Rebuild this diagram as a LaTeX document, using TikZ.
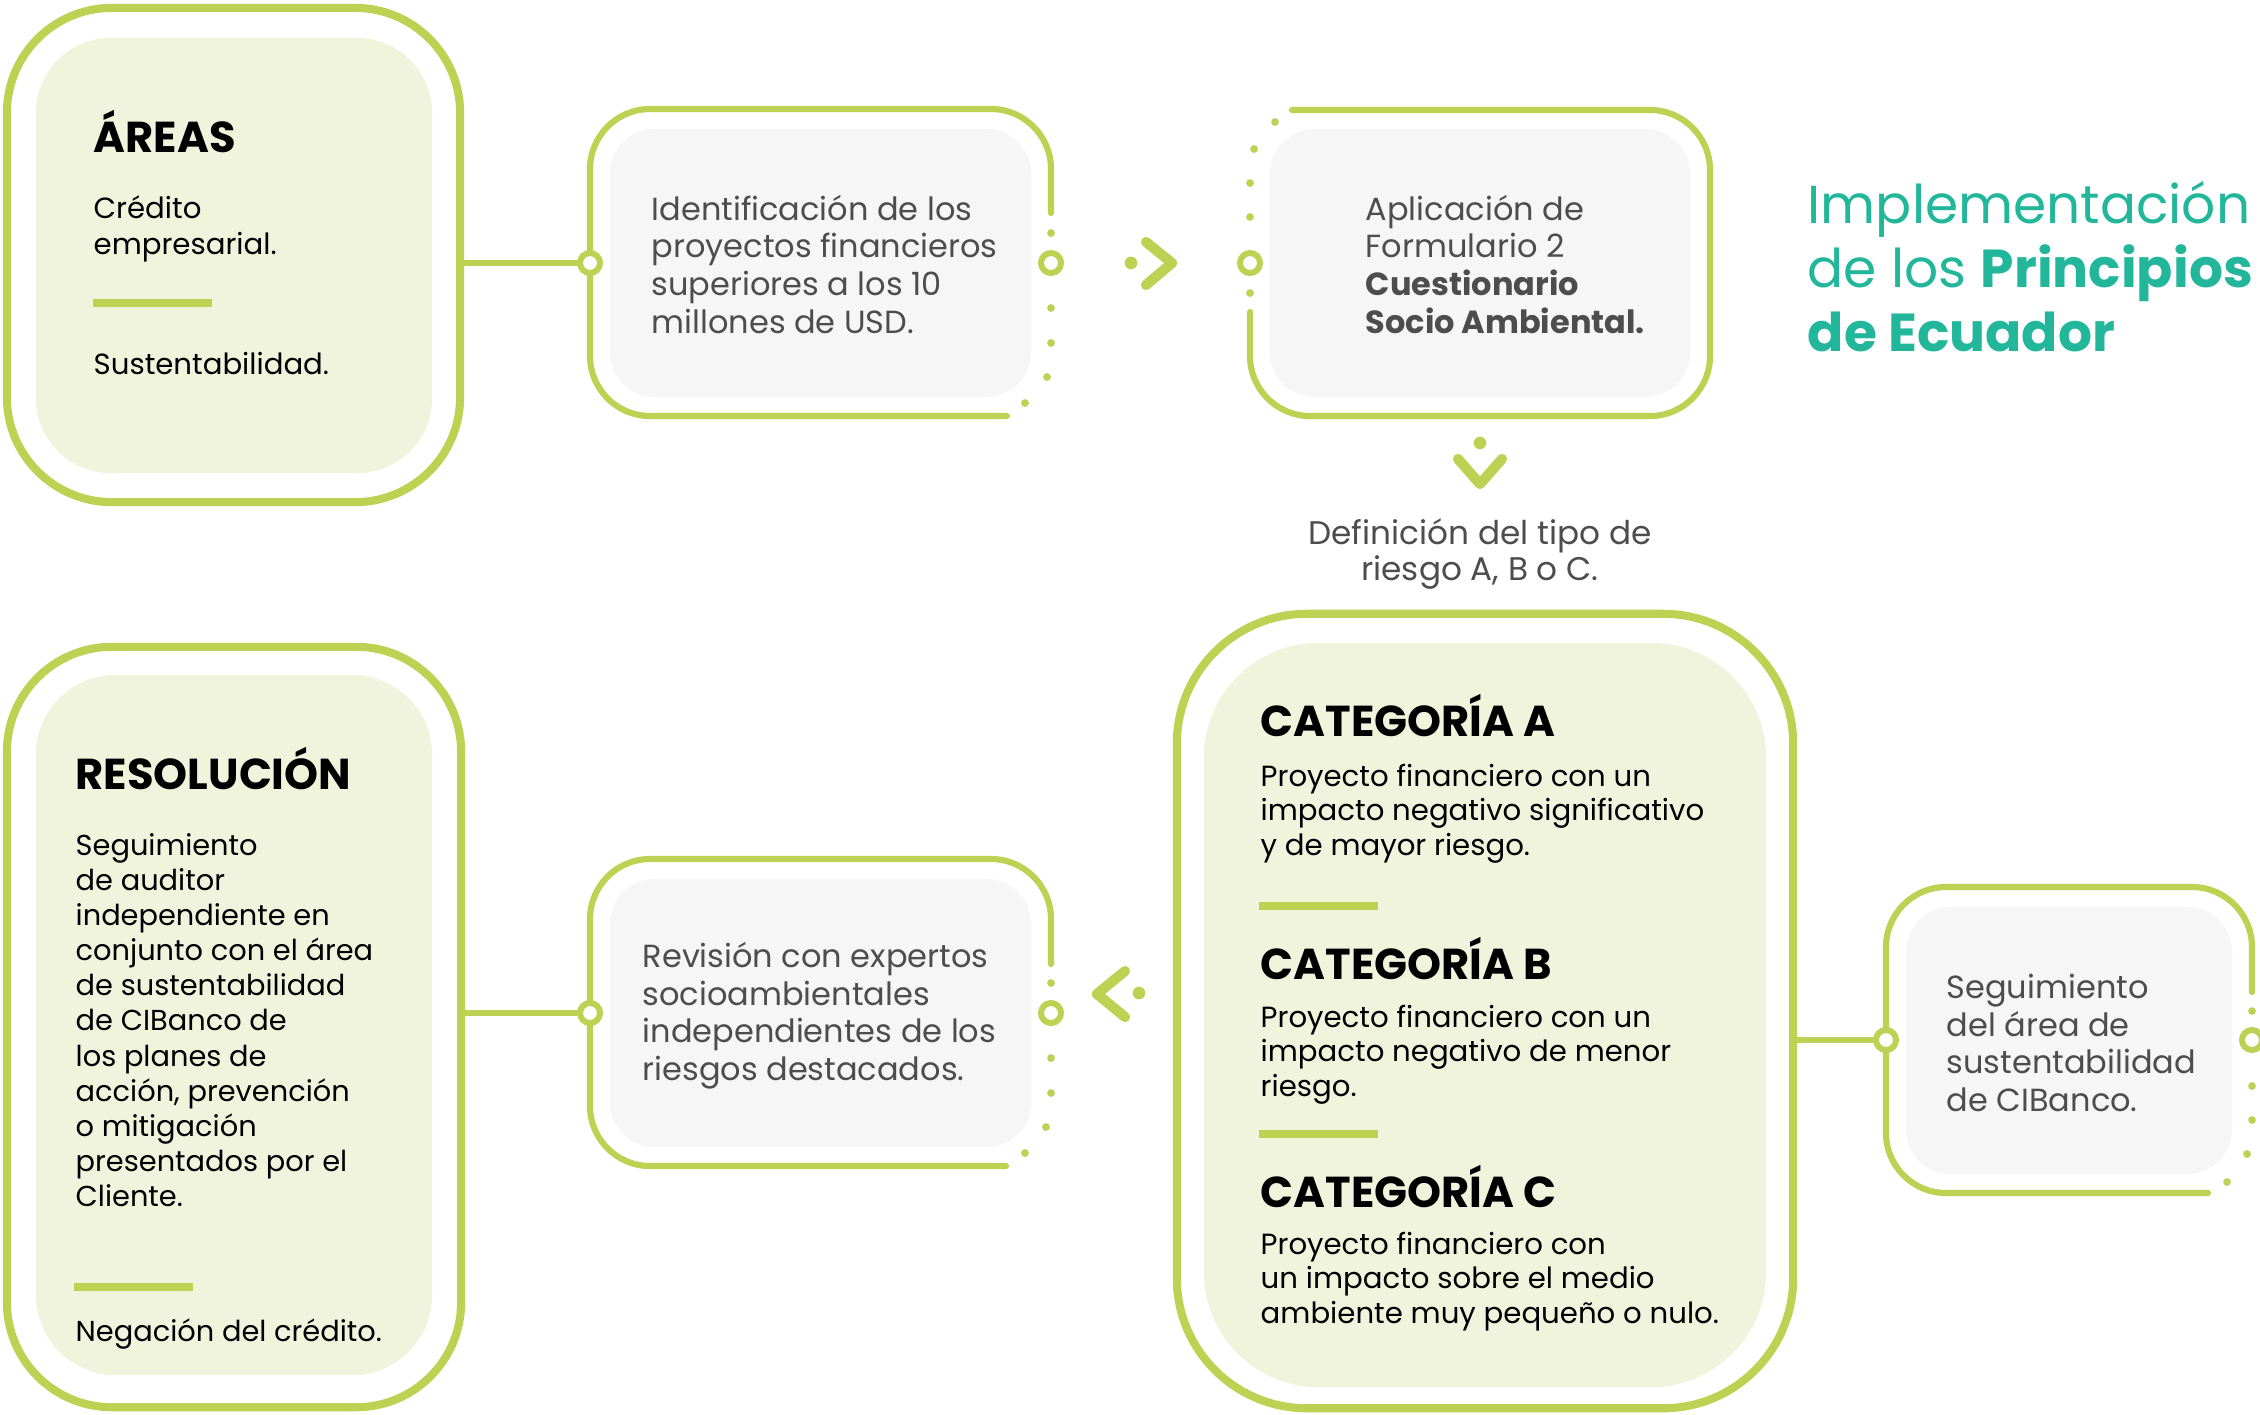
\documentclass[tikz,border=0pt]{standalone}
\usepackage{fontspec}
\setmainfont{Poppins}
\definecolor{gline}{HTML}{BDD153}
\definecolor{gfill}{HTML}{F0F4DC}
\definecolor{grayfill}{HTML}{F6F6F6}
\definecolor{txtgray}{HTML}{4D4D4D}
\definecolor{ttl}{HTML}{22B79A}
\newcommand\fs[2]{\fontsize{#1}{#2}\selectfont}
\newcommand\tl[1]{\begin{tabular}[t]{@{}l@{}}#1\end{tabular}}
\newcommand\tc[1]{\begin{tabular}[t]{@{}c@{}}#1\end{tabular}}
\begin{document}
\begin{tikzpicture}[x=0.01cm,y=-0.01cm,
  bigframe/.style={draw=gline, line width=2.3pt, rectangle, inner sep=0pt, outer sep=0pt},
  frame/.style={draw=gline, line width=1.75pt, line cap=round, rounded corners=0.6cm},
  greenbox/.style={fill=gfill, rectangle, inner sep=0pt, outer sep=0pt},
  graybox/.style={fill=grayfill, rectangle, rounded corners=0.45cm, inner sep=0pt, outer sep=0pt, minimum width=4.21cm, minimum height=2.68cm},
  ring/.style={circle, draw=gline, line width=1.7pt, fill=white, minimum size=0.2cm, inner sep=0pt, outer sep=0pt},
  conn/.style={draw=gline, line width=1.6pt},
  fdot/.style={fill=gline},
  chev/.style={draw=gline, line width=2.9pt, line cap=round, line join=round},
  txt/.style={inner sep=0pt, anchor=base west},
  gtxt/.style={txt, text=txtgray, font=\fs{9.1pt}{10.8pt}},
  btxt/.style={txt, text=black, font=\fs{8.3pt}{9.9pt}},
  head/.style={txt, text=black, font=\bfseries\fs{12.3pt}{14pt}},
  rulebar/.style={draw=gline, line width=2.1pt}
]
\useasboundingbox (0,0) rectangle (2260,1414);
\fill[white] (0,0) rectangle (2260,1414);

% ---------- big frames (full) ----------
\node[bigframe, rounded corners=1.05cm, minimum width=4.53cm, minimum height=4.94cm] (A1) at (233.5,255) {};
\node[bigframe, rounded corners=1.3cm, minimum width=6.16cm, minimum height=7.94cm] (C4) at (1485,1011) {};
\node[bigframe, rounded corners=1.05cm, minimum width=4.54cm, minimum height=7.60cm] (F7) at (234,1027) {};

% ---------- inner fills ----------
\node[greenbox, rounded corners=0.75cm, minimum width=3.96cm, minimum height=4.35cm] (a1) at (234,255.5) {};
\node[greenbox, rounded corners=1.15cm, minimum width=5.62cm, minimum height=7.44cm] (c4) at (1485,1015) {};
\node[greenbox, rounded corners=0.8cm, minimum width=3.96cm, minimum height=7.00cm] (f7) at (234,1025) {};
\node[graybox] (b2) at (820.5,263) {};
\node[graybox, minimum width=4.20cm] (b3) at (1480,263) {};
\node[graybox, minimum width=3.26cm, minimum height=2.67cm] (d5) at (2069,1040.5) {};
\node[graybox] (e6) at (820.5,1013) {};

% ---------- partial frames ----------
\draw[frame] (1007,416) -- (590,416) -- (590,109) -- (1051,109) -- (1051,213);
\foreach \p in {(1051,233),(1051,308),(1051,343),(1047,377),(1025,403)} \fill[fdot] \p circle[radius=1.1pt];
\draw[frame] (1250,312) -- (1250,416) -- (1710,416) -- (1710,110) -- (1292,110);
\foreach \p in {(1275,122),(1254,149),(1250,183),(1250,217),(1250,293)} \fill[fdot] \p circle[radius=1.1pt];
\draw[frame] (2208,1193) -- (1886,1193) -- (1886,887) -- (2252,887) -- (2252,992);
\foreach \p in {(2252,1011),(2252,1086),(2252,1120),(2247,1154),(2227,1182)} \fill[fdot] \p circle[radius=1.1pt];
\draw[frame] (1006,1166) -- (590,1166) -- (590,859) -- (1051,859) -- (1051,964);
\foreach \p in {(1051,983),(1051,1058),(1051,1093),(1046,1127),(1025,1153)} \fill[fdot] \p circle[radius=1.1pt];

% ---------- rings ----------
\node[ring] (r2l) at (590,263) {};
\node[ring] (r2r) at (1051,263) {};
\node[ring] (r3l) at (1250,263) {};
\node[ring] (r5l) at (1886,1040) {};
\node[ring] (r5r) at (2252,1040) {};
\node[ring] (r6l) at (590,1013) {};
\node[ring] (r6r) at (1051,1013) {};

% ---------- connectors ----------
\draw[conn] (A1.east |- r2l) -- (r2l.west);
\draw[conn] (C4.east |- r5l) -- (r5l.west);
\draw[conn] (F7.east |- r6l) -- (r6l.west);

% ---------- arrows ----------
\fill[fdot] (1131,263) circle[radius=1.8pt];
\draw[chev] (1146,242) -- (1172,263) -- (1146,285);
\fill[fdot] (1480,443) circle[radius=1.8pt];
\draw[chev] (1458,459) -- (1480,484) -- (1502,459);
\fill[fdot] (1139,993) circle[radius=1.8pt];
\draw[chev] (1125,971) -- (1097,994) -- (1125,1017);

% ---------- texts ----------
\node[head] (t1h) at (93,152) {ÁREAS};
\node[btxt, font=\fs{8.3pt}{10.5pt}] (t1a) at (93,218) {\tl{Crédito\\empresarial.}};
\draw[rulebar] (93,303) -- (212,303);
\node[btxt, font=\fs{8.3pt}{10.5pt}] (t1b) at (93,374) {Sustentabilidad.};

\node[gtxt] (t2) at (651,220) {\tl{Identificación de los\\proyectos financieros\\superiores a los 10\\millones de USD.}};
\node[gtxt] (t3) at (1365,220) {\tl{Aplicación de\\Formulario 2\\\textbf{Cuestionario}\\\textbf{Socio Ambiental.}}};

\node[txt, text=ttl, font=\fs{15.2pt}{18.2pt}] (title) at (1807,223) {\tl{Implementación\\de los \textbf{Principios}\\\textbf{de Ecuador}}};

\node[inner sep=0pt, anchor=base, text=txtgray, font=\fs{9.3pt}{10.5pt}] (def) at (1480,544) {\tc{Definición del tipo de\\riesgo A, B o C.}};

\node[head] (cah) at (1260,736) {CATEGORÍA A};
\node[btxt] (cat) at (1260,786) {\tl{Proyecto financiero con un\\impacto negativo significativo\\y de mayor riesgo.}};
\draw[rulebar] (1259,906) -- (1378,906);
\node[head] (cbh) at (1260,979) {CATEGORÍA B};
\node[btxt] (cbt) at (1260,1027) {\tl{Proyecto financiero con un\\impacto negativo de menor\\riesgo.}};
\draw[rulebar] (1259,1134) -- (1378,1134);
\node[head] (cch) at (1260,1207) {CATEGORÍA C};
\node[btxt] (cct) at (1260,1254) {\tl{Proyecto financiero con\\un impacto sobre el medio\\ambiente muy pequeño o nulo.}};

\node[gtxt] (t5) at (1946,998) {\tl{Seguimiento\\del área de\\sustentabilidad\\de CIBanco.}};
\node[gtxt] (t6) at (642,967) {\tl{Revisión con expertos\\socioambientales\\independientes de los\\riesgos destacados.}};

\node[head] (t7h) at (75,789) {RESOLUCIÓN};
\node[btxt, font=\fs{8.2pt}{10.0pt}] (t7) at (75,855) {\tl{Seguimiento\\de auditor\\independiente en\\conjunto con el área\\de sustentabilidad\\de CIBanco de\\los planes de\\acción, prevención\\o mitigación\\presentados por el\\Cliente.}};
\draw[rulebar] (74,1287) -- (193,1287);
\node[btxt, font=\fs{8.2pt}{10.0pt}] (t7b) at (75,1341) {Negación del crédito.};
\end{tikzpicture}
\end{document}
